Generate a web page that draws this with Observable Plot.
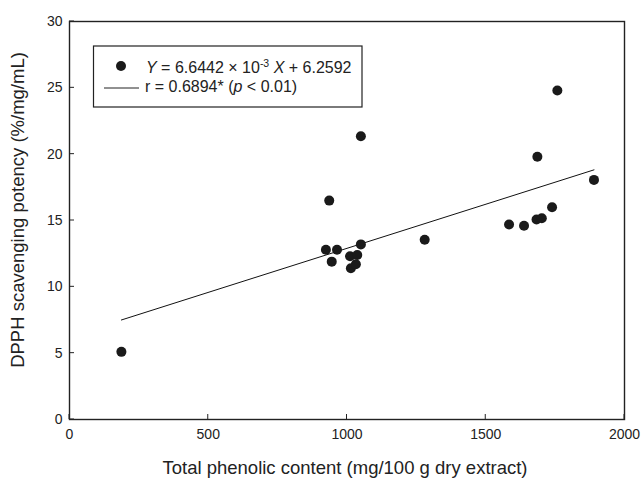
<!DOCTYPE html>
<html><head><meta charset="utf-8">
<script src="https://cdn.jsdelivr.net/npm/d3@7"></script>
<script src="https://cdn.jsdelivr.net/npm/@observablehq/plot@0.6"></script>
<style>body{margin:0;background:#fff;font-family:"Liberation Sans",Arial,sans-serif}</style>
</head><body><div id="chart"></div>
<script>
const phenolic = [187, 936, 924, 964, 945, 1050, 1050, 1011, 1037, 1014, 1032, 1280, 1584, 1638, 1683, 1702, 1739, 1686, 1758, 1890];
const dpph     = [5.1, 16.5, 12.8, 12.8, 11.9, 21.35, 13.2, 12.3, 12.4, 11.4, 11.7, 13.55, 14.7, 14.6, 15.07, 15.17, 16.0, 19.8, 24.8, 18.06];
const xTicks = [0, 500, 1000, 1500, 2000];
const yTicks = [0, 5, 10, 15, 20, 25, 30];
const slope = 6.6442e-3, intercept = 6.2592;
const xTitle = "Total phenolic content (mg/100 g dry extract)";
const yTitle = "DPPH scavenging potency (%/mg/mL)";

const points = phenolic.map((x, i) => ({x, y: dpph[i]}));
const xMin = d3.min(phenolic), xMax = d3.max(phenolic);
const fit = [xMin, xMax].map(x => ({x, y: slope * x + intercept}));

const W = 643, H = 479;
const ff = '"Liberation Sans", Arial, sans-serif';
const plot = Plot.plot({
  width: W, height: H,
  marginLeft: 69, marginRight: 19, marginTop: 21, marginBottom: 60,
  style: {fontFamily: ff, fontSize: "14px", color: "#222", background: "#fff"},
  x: {domain: [0, 2000]},
  y: {domain: [0, 30]},
  marks: [
    Plot.line(fit, {x: "x", y: "y", stroke: "#111", strokeWidth: 1}),
    Plot.dot(points, {x: "x", y: "y", r: 5, fill: "#1a1a1a", stroke: "none"}),
    Plot.axisX(xTicks, {tickSize: 0, tickPadding: 10, label: null, tickFormat: d3.format("d"), fill: "#222", fontSize: 14}),
    Plot.axisY(yTicks, {tickSize: 0, tickPadding: 7, label: null, tickFormat: d3.format("d"), fill: "#222", fontSize: 14}),
    Plot.frame({stroke: "#222", strokeWidth: 1.4})
  ]
});
document.getElementById("chart").appendChild(plot);

const svg = d3.select(plot);
const xs = plot.scale("x"), ys = plot.scale("y");
const [y0] = [ys.apply(0)], x0 = xs.apply(0);
const tk = svg.append("g").attr("stroke", "#222").attr("stroke-width", 1);
xTicks.forEach(v => tk.append("line").attr("x1", xs.apply(v)).attr("x2", xs.apply(v)).attr("y1", y0).attr("y2", y0 - 5));
yTicks.forEach(v => tk.append("line").attr("x1", x0).attr("x2", x0 + 5).attr("y1", ys.apply(v)).attr("y2", ys.apply(v)));

svg.append("text").attr("x", 345).attr("y", 474).attr("text-anchor", "middle")
  .attr("font-family", ff).attr("font-size", 18.5).attr("fill", "#222").text(xTitle);
svg.append("text").attr("transform", "translate(24,210) rotate(-90)").attr("text-anchor", "middle")
  .attr("font-family", ff).attr("font-size", 18.5).attr("fill", "#222").text(yTitle);

const lg = svg.append("g").attr("font-family", ff).attr("font-size", 16).attr("fill", "#222").attr("text-anchor", "start");
lg.append("rect").attr("x", 93.5).attr("y", 46).attr("width", 268.5).attr("height", 61)
  .attr("fill", "#fff").attr("stroke", "#222").attr("stroke-width", 1.2);
lg.append("circle").attr("cx", 121).attr("cy", 66).attr("r", 5).attr("fill", "#1a1a1a");
lg.append("line").attr("x1", 104).attr("x2", 139).attr("y1", 88).attr("y2", 88).attr("stroke", "#222").attr("stroke-width", 1);
const t1 = lg.append("text").attr("x", 146).attr("y", 73);
t1.append("tspan").attr("font-style", "italic").text("Y");
t1.append("tspan").text(" = 6.6442 × 10");
t1.append("tspan").attr("font-size", 10.5).attr("dy", -6).text("-3");
t1.append("tspan").attr("dy", 6).attr("font-style", "italic").text(" X");
t1.append("tspan").text(" + 6.2592");
const t2 = lg.append("text").attr("x", 145).attr("y", 92);
t2.append("tspan").text("r = 0.6894* (");
t2.append("tspan").attr("font-style", "italic").text("p");
t2.append("tspan").text(" < 0.01)");
</script>
</body></html>
